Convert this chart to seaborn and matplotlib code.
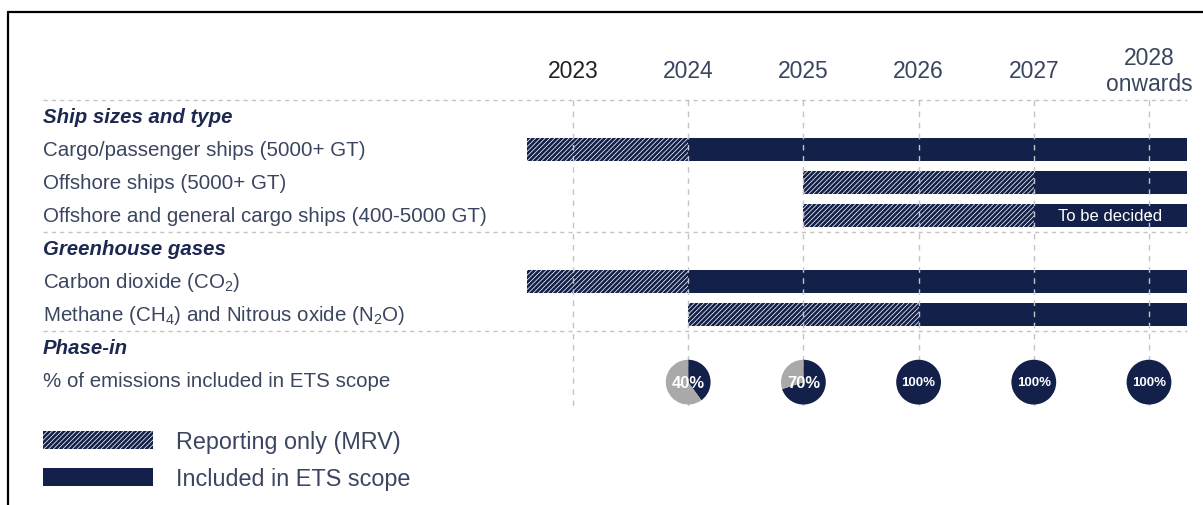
import matplotlib
matplotlib.use("Agg")
import matplotlib.pyplot as plt
from matplotlib.patches import Patch
from matplotlib.lines import Line2D
import pandas as pd
import seaborn as sns

# ---------------- data ----------------
years = [2023, 2024, 2025, 2026, 2027, 2028]
year_labels = ["2023", "2024", "2025", "2026", "2027", "2028\nonwards"]

section_titles = ["Ship sizes and type", "Greenhouse gases", "Phase-in"]
ship_rows = ["Cargo/passenger ships (5000+ GT)",
             "Offshore ships (5000+ GT)",
             "Offshore and general cargo ships (400-5000 GT)"]
gas_rows = ["Carbon dioxide (CO$_2$)",
            "Methane (CH$_4$) and Nitrous oxide (N$_2$O)"]
phase_row = "% of emissions included in ETS scope"

bar_labels = ship_rows + gas_rows
mrv_start = [2022.6, 2025, 2025, 2022.6, 2024]   # reporting only (MRV) from
ets_start = [2024, 2027, 2027, 2024, 2026]       # included in ETS from
timeline_end = 2028.33                            # "onwards"
ets_note = ["", "", "To be decided", "", ""]

phase_years = [2024, 2025, 2026, 2027, 2028]
phase_pct = [40, 70, 100, 100, 100]

legend_labels = ["Reporting only (MRV)", "Included in ETS scope"]

# ---------------- style ----------------
sns.set_theme(style="white")
plt.rcParams["font.family"] = ["Liberation Sans", "DejaVu Sans"]
plt.rcParams["mathtext.fontset"] = "custom"
plt.rcParams["mathtext.rm"] = "Liberation Sans"
plt.rcParams["mathtext.it"] = "Liberation Sans:italic"
plt.rcParams["hatch.linewidth"] = 1.9

NAVY = "#13204a"
GREY = "#a9a9a9"
TEXT = "#3a4560"
HEAD = "#1d2850"
GRID = "#c4c4c4"
HATCH = "///////"

W, H = 1203, 506
fig = plt.figure(figsize=(W / 100, H / 100), dpi=100)
ax = fig.add_axes([0, 0, 1, 1])
ax.axis("off")

px_per_year = 115.2
x0 = 2023 - 573 / px_per_year
ax.set_xlim(x0, x0 + W / px_per_year)
row_px, row0_px = 33.0, 117.5
ax.set_ylim((H - row0_px) / row_px, -row0_px / row_px)

label_x = x0 + 43 / px_per_year

# row layout: section header rows and item rows
rows = {}
r = 0
layout = [(section_titles[0], ship_rows), (section_titles[1], gas_rows),
          (section_titles[2], [phase_row])]
for title, items in layout:
    ax.text(label_x, r, title, fontsize=14.7, fontweight="bold", style="italic",
            color=HEAD, va="center", ha="left")
    r += 1
    for it in items:
        rows[it] = r
        ax.text(label_x, r, it, fontsize=14.8, color=TEXT, va="center", ha="left")
        r += 1

# section separators
sep_rows = [-0.5, 3.5, 6.5]
for sr in sep_rows:
    ax.plot([label_x, timeline_end], [sr, sr], color=GRID, lw=1.0,
            ls=(0, (3, 3)), zorder=4)

# year headers + vertical dashed lines
for yr, lab in zip(years, year_labels):
    ax.text(yr, -1.4, lab, fontsize=16.5, color="#222222" if yr == 2023 else TEXT,
            ha="center", va="center", linespacing=1.15)
    ax.plot([yr, yr], [-0.5, 8.9], color=GRID, lw=1.0, ls=(0, (4, 4)), zorder=4)

# bars
df = pd.DataFrame({"label": bar_labels, "mrv": mrv_start, "ets": ets_start,
                   "note": ets_note})
df["row"] = df["label"].map(rows)
bh = 0.67
ax.barh(df["row"], df["ets"] - df["mrv"], left=df["mrv"], height=bh,
        color="white", edgecolor=NAVY, hatch=HATCH, linewidth=0, zorder=2)
ax.barh(df["row"], timeline_end - df["ets"], left=df["ets"], height=bh,
        color=NAVY, linewidth=0, zorder=2)
for _, rw in df.iterrows():
    if rw["note"]:
        ax.text((rw["ets"] + timeline_end) / 2, rw["row"], rw["note"], color="white",
                fontsize=12, ha="center", va="center", zorder=5)

# phase-in pies
fig.canvas.draw()
rad = 28
prow = rows[phase_row]
for yr, pct in zip(phase_years, phase_pct):
    cx, cy = ax.transData.transform((yr, prow + 0.05))
    pax = fig.add_axes([(cx - rad) / W, (cy - rad) / H, 2 * rad / W, 2 * rad / H])
    pax.pie([pct, 100 - pct], colors=[NAVY, GREY], startangle=90,
            counterclock=False, wedgeprops=dict(linewidth=0))
    pax.set_aspect("equal")
    pax.axis("off")
    pax.text(0, 0, f"{pct}%", color="white", ha="center", va="center",
             fontsize=12 if pct < 100 else 9.5, fontweight="bold")

# legend
handles = [Patch(facecolor="white", edgecolor=NAVY, hatch=HATCH, linewidth=0),
           Patch(facecolor=NAVY, edgecolor=NAVY, linewidth=0)]
ax.legend(handles, legend_labels, loc="upper left",
          bbox_to_anchor=(43 / W, 1 - 431 / H), bbox_transform=fig.transFigure,
          frameon=False, fontsize=16.8, handlelength=4.7, handleheight=0.83,
          handletextpad=0.98, labelspacing=0.6, borderpad=0, borderaxespad=0,
          labelcolor=TEXT)

# frame lines (top and left)
fig.add_artist(Line2D([8 / W, 1], [1 - 13 / H, 1 - 13 / H], transform=fig.transFigure,
                      color="black", lw=1.6))
fig.add_artist(Line2D([8 / W, 8 / W], [0, 1 - 13 / H], transform=fig.transFigure,
                      color="black", lw=1.6))

fig.savefig("out.png", dpi=100)
